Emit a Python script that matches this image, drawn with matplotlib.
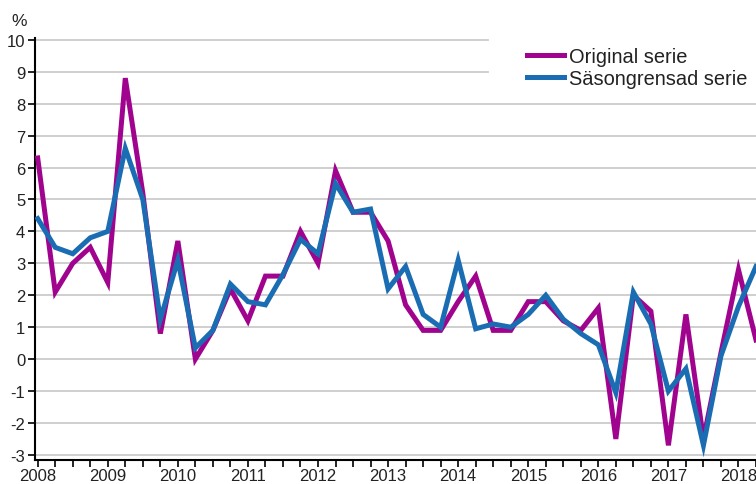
import matplotlib
matplotlib.use('Agg')
import matplotlib.pyplot as plt
import numpy as np

plt.rcParams['font.family'] = ['Liberation Sans', 'DejaVu Sans']
plt.rcParams['axes.unicode_minus'] = False

# quarterly values, 2008Q1 .. 2018Q2
years = [str(y) for y in range(2008, 2019)]
original = [6.3, 2.1, 3.0, 3.5, 2.4, 8.8, 5.2, 0.8,
            3.7, 0.0, 0.9, 2.2, 1.2, 2.6, 2.6, 4.0,
            3.0, 5.9, 4.6, 4.6, 3.7, 1.7, 0.9, 0.9,
            1.8, 2.6, 0.9, 0.9, 1.8, 1.8, 1.2, 0.9,
            1.6, -2.5, 2.0, 1.5, -2.7, 1.4, -2.5, 0.2,
            2.8, 0.6]
seasonal = [4.4, 3.5, 3.3, 3.8, 4.0, 6.6, 5.0, 1.25,
            3.1, 0.35, 0.9, 2.35, 1.8, 1.7, 2.65, 3.75,
            3.3, 5.5, 4.6, 4.7, 2.2, 2.9, 1.4, 1.0,
            3.1, 0.95, 1.1, 1.0, 1.4, 2.0, 1.25, 0.8,
            0.45, -1.05, 2.1, 1.1, -1.0, -0.3, -2.7, 0.1,
            1.65, 2.9]
labels = ['Original serie', 'Säsongrensad serie']

purple = '#a0048e'
blue = '#1b6db3'

fig = plt.figure(figsize=(7.56, 4.85), dpi=100)
ax = fig.add_axes([35/756, (485-460.7)/485, 721/756, 421.8/485])

x = np.arange(len(original))
ax.plot(x, original, color=purple, lw=3.6, label=labels[0], solid_joinstyle='miter', zorder=3)
ax.plot(x, seasonal, color=blue, lw=3.6, label=labels[1], solid_joinstyle='miter', zorder=4)

ax.set_xlim((35-37.7)/17.57, (756-37.7)/17.57)
ax.set_ylim(-3.15, 10.06)

# gridlines, the top two stop short of the legend
for v in range(-3, 11):
    if v >= 9:
        ax.axhline(v, xmax=(488-35)/721, color='#cccccc', lw=1.3, zorder=1)
    else:
        ax.axhline(v, color='#cccccc', lw=1.3, zorder=1)

ax.set_yticks(range(-3, 11))
ax.set_xticks(np.arange(0, len(original), 4))
ax.set_xticklabels(years)
ax.set_xticks(np.arange(len(original)), minor=True)
ax.tick_params(axis='both', which='both', direction='out', length=5, width=1.2,
               color='black', labelsize=12, labelcolor='#222222')
ax.tick_params(axis='x', pad=1)
ax.tick_params(axis='y', pad=2)

for s in ['top', 'right']:
    ax.spines[s].set_visible(False)
for s in ['left', 'bottom']:
    ax.spines[s].set_linewidth(1.5)
    ax.spines[s].set_color('black')

fig.text(11/756, 1-26/485, '%', fontsize=12.5, color='#222222', va='baseline')

leg = ax.legend(loc='upper left', bbox_to_anchor=(527/756, 1-48/485), bbox_transform=fig.transFigure,
                frameon=False, fontsize=14.4, handlelength=1.85, handletextpad=0.25,
                labelspacing=0.15, borderpad=0, borderaxespad=0)
for t in leg.get_texts():
    t.set_color('#222222')

fig.savefig('out.png', dpi=100)
